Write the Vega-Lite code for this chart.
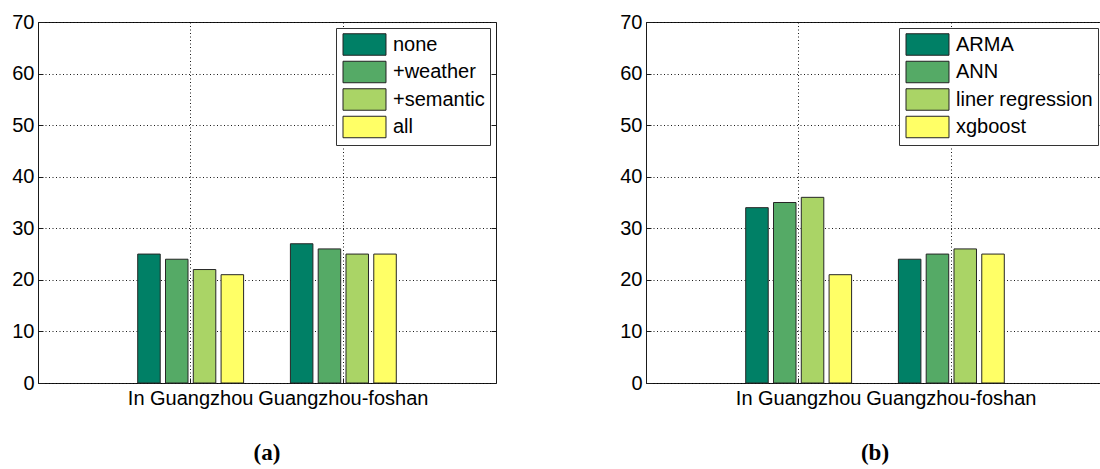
{
  "$schema": "https://vega.github.io/schema/vega-lite/v6.json",
  "padding": {"left": 11, "top": 11, "right": 0, "bottom": 0},
  "background": "white",
  "bounds": "flush",
  "spacing": 150,
  "datasets": {
    "features": [
      {"region": "In Guangzhou", "setting": "none", "value": 25},
      {"region": "In Guangzhou", "setting": "+weather", "value": 24},
      {"region": "In Guangzhou", "setting": "+semantic", "value": 22},
      {"region": "In Guangzhou", "setting": "all", "value": 21},
      {"region": "Guangzhou-foshan", "setting": "none", "value": 27},
      {"region": "Guangzhou-foshan", "setting": "+weather", "value": 26},
      {"region": "Guangzhou-foshan", "setting": "+semantic", "value": 25},
      {"region": "Guangzhou-foshan", "setting": "all", "value": 25}
    ],
    "models": [
      {"region": "In Guangzhou", "setting": "ARMA", "value": 34},
      {"region": "In Guangzhou", "setting": "ANN", "value": 35},
      {"region": "In Guangzhou", "setting": "liner regression", "value": 36},
      {"region": "In Guangzhou", "setting": "xgboost", "value": 21},
      {"region": "Guangzhou-foshan", "setting": "ARMA", "value": 24},
      {"region": "Guangzhou-foshan", "setting": "ANN", "value": 25},
      {"region": "Guangzhou-foshan", "setting": "liner regression", "value": 26},
      {"region": "Guangzhou-foshan", "setting": "xgboost", "value": 25}
    ]
  },
  "hconcat": [
    {
      "width": 458,
      "height": 361,
      "data": {"name": "features"},
      "title": {"text": "(a)"},
      "layer": [
        {
          "mark": {"type": "bar", "stroke": "#262626", "strokeWidth": 1},
          "encoding": {
            "x": {
              "field": "region", "type": "nominal",
              "scale": {"domain": ["In Guangzhou", "Guangzhou-foshan"], "paddingInner": 0.3065, "paddingOuter": 0.653},
              "axis": {"title": null, "labelAngle": 0, "tickBand": "center", "grid": true, "tickSize": -5, "labelPadding": 10}
            },
            "xOffset": {
              "field": "setting", "type": "nominal",
              "scale": {"domain": ["none", "+weather", "+semantic", "all"], "paddingInner": 0.19, "paddingOuter": 0}
            },
            "y": {
              "field": "value", "type": "quantitative",
              "scale": {"domain": [0, 70], "nice": false},
              "axis": {"title": null, "values": [0, 10, 20, 30, 40, 50, 60, 70], "tickSize": -5, "labelPadding": 9}
            },
            "color": {
              "field": "setting", "type": "nominal",
              "scale": {"domain": ["none", "+weather", "+semantic", "all"], "range": ["#008066", "#55aa66", "#aad466", "#ffff66"]},
              "legend": {"title": null}
            }
          }
        },
        {
          "mark": {"type": "rule", "strokeOpacity": 0},
          "encoding": {
            "y": {
              "field": "value", "type": "quantitative",
              "scale": {"domain": [0, 70], "nice": false},
              "axis": {"orient": "right", "title": null, "labels": false, "grid": false, "domain": false, "values": [0, 10, 20, 30, 40, 50, 60, 70], "tickSize": -5}
            }
          }
        }
      ],
      "resolve": {"axis": {"y": "independent"}}
    },
    {
      "width": 458,
      "height": 361,
      "data": {"name": "models"},
      "title": {"text": "(b)"},
      "layer": [
        {
          "mark": {"type": "bar", "stroke": "#262626", "strokeWidth": 1},
          "encoding": {
            "x": {
              "field": "region", "type": "nominal",
              "scale": {"domain": ["In Guangzhou", "Guangzhou-foshan"], "paddingInner": 0.3065, "paddingOuter": 0.653},
              "axis": {"title": null, "labelAngle": 0, "tickBand": "center", "grid": true, "tickSize": -5, "labelPadding": 10}
            },
            "xOffset": {
              "field": "setting", "type": "nominal",
              "scale": {"domain": ["ARMA", "ANN", "liner regression", "xgboost"], "paddingInner": 0.19, "paddingOuter": 0}
            },
            "y": {
              "field": "value", "type": "quantitative",
              "scale": {"domain": [0, 70], "nice": false},
              "axis": {"title": null, "values": [0, 10, 20, 30, 40, 50, 60, 70], "tickSize": -5, "labelPadding": 9}
            },
            "color": {
              "field": "setting", "type": "nominal",
              "scale": {"domain": ["ARMA", "ANN", "liner regression", "xgboost"], "range": ["#008066", "#55aa66", "#aad466", "#ffff66"]},
              "legend": {"title": null}
            }
          }
        },
        {
          "mark": {"type": "rule", "strokeOpacity": 0},
          "encoding": {
            "y": {
              "field": "value", "type": "quantitative",
              "scale": {"domain": [0, 70], "nice": false},
              "axis": {"orient": "right", "title": null, "labels": false, "grid": false, "domain": false, "values": [0, 10, 20, 30, 40, 50, 60, 70], "tickSize": -5}
            }
          }
        }
      ],
      "resolve": {"axis": {"y": "independent"}}
    }
  ],
  "resolve": {"scale": {"color": "independent", "xOffset": "independent", "x": "independent", "y": "independent"}},
  "config": {
    "font": "Liberation Sans",
    "view": {"stroke": "#1a1a1a", "strokeWidth": 1},
    "axis": {
      "labelFont": "Liberation Sans",
      "labelFontSize": 20,
      "labelColor": "#000",
      "tickColor": "#1a1a1a",
      "tickWidth": 1,
      "domain": false,
      "gridColor": "#000",
      "gridOpacity": 0.9,
      "gridWidth": 1,
      "gridDash": [1, 2.5]
    },
    "legend": {
      "orient": "top-right",
      "offset": 6,
      "fillColor": "white",
      "strokeColor": "#333",
      "padding": 5,
      "symbolType": "M-2,-1H2V1H-2Z",
      "symbolSize": 462,
      "symbolOffset": 12,
      "symbolStrokeColor": "#222",
      "symbolStrokeWidth": 1,
      "symbolOpacity": 1,
      "labelFont": "Liberation Sans",
      "labelFontSize": 20,
      "labelColor": "#000",
      "labelOffset": 17,
      "rowPadding": 0.5
    },
    "title": {
      "orient": "bottom",
      "font": "Liberation Serif",
      "fontSize": 23,
      "fontWeight": "bold",
      "color": "#000",
      "offset": 34
    }
  }
}
